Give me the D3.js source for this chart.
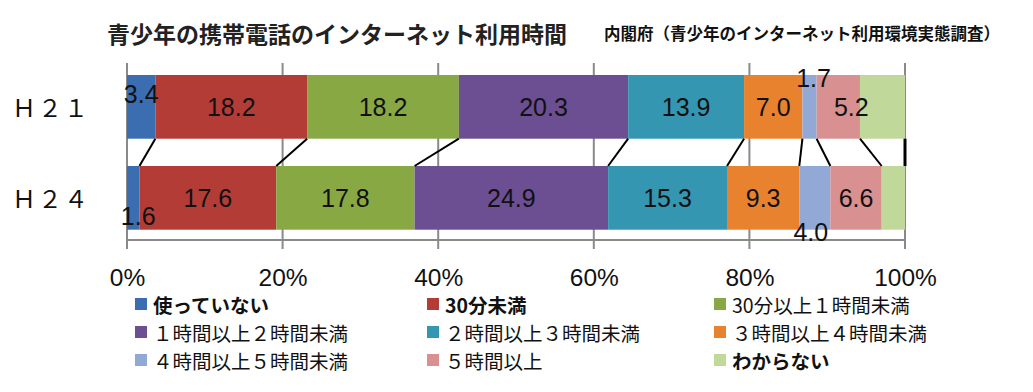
<!DOCTYPE html>
<html><head><meta charset="utf-8">
<script src="https://cdn.jsdelivr.net/npm/d3@7"></script>
<style>body{margin:0;background:#fff}svg{display:block}</style>
</head><body>
<svg id="c" width="1033" height="392"></svg>
<script>
const categories = ["Ｈ２１", "Ｈ２４"];
const seriesNames = ["使っていない","30分未満","30分以上１時間未満","１時間以上２時間未満","２時間以上３時間未満","３時間以上４時間未満","４時間以上５時間未満","５時間以上","わからない"];
const h21 = [3.4, 18.2, 18.2, 20.3, 13.9, 7.0, 1.7, 5.2, 5.4];
const h24 = [1.6, 17.6, 17.8, 24.9, 15.3, 9.3, 4.0, 6.6, 3.0];
const shownLabels = [true, true, true, true, true, true, true, true, false];
const colors = ["#3b6eb0","#b33c37","#88a843","#6c4e92","#3596b2","#e8822f","#92a9d6","#d99090","#c0d89a"];
const tickValues = [0, 0.2, 0.4, 0.6, 0.8, 1.0];
const title = "青少年の携帯電話のインターネット利用時間";
const source = "内閣府（青少年のインターネット利用環境実態調査）";

const svg = d3.select("#c");
const x = d3.scaleLinear().domain([0, 1]).range([127, 905]);
const y = d3.scaleBand().domain(categories).range([75, 229.7]).paddingInner(0.3).paddingOuter(0);

const rows = [h21, h24].map((vals, i) => {
  const o = {cat: categories[i]};
  seriesNames.forEach((s, j) => o[s] = vals[j]);
  return o;
});
const stack = d3.stack().keys(seriesNames).offset(d3.stackOffsetExpand);
const series = stack(rows);

// gridlines
svg.append("g").selectAll("line").data(tickValues).join("line")
  .attr("x1", d => x(d)).attr("x2", d => x(d)).attr("y1", 63).attr("y2", 249)
  .attr("stroke", "#8a8a8a").attr("stroke-width", 2);
svg.append("line").attr("x1", x(0)).attr("x2", x(1)).attr("y1", 240).attr("y2", 240)
  .attr("stroke", "#8a8a8a").attr("stroke-width", 2);

// bars
series.forEach((s, j) => {
  svg.append("g").selectAll("rect").data(s).join("rect")
    .attr("x", d => x(d[0])).attr("width", d => x(d[1]) - x(d[0]))
    .attr("y", d => y(d.data.cat)).attr("height", y.bandwidth())
    .attr("fill", colors[j]);
});

// connector lines
series.forEach((s, j) => {
  const a = s[0], b = s[1];
  svg.append("line")
    .attr("x1", x(a[1])).attr("y1", y(categories[0]) + y.bandwidth())
    .attr("x2", x(b[1])).attr("y2", y(categories[1]))
    .attr("stroke", "#000").attr("stroke-width", j === seriesNames.length - 1 ? 3 : 2);
});

// data labels
const labelOffsets = [
  [[0, -13], [5, 18]],
  [[0,0],[0,0]],[[0,0],[0,0]],[[0,0],[0,0]],[[0,0],[0,0]],[[0,0],[0,0]],
  [[4, -29], [-4, 34]],
  [[13, 0], [0, 0]],
  [[0,0],[0,0]]
];
series.forEach((s, j) => {
  if (!shownLabels[j]) return;
  s.forEach((d, i) => {
    const vals = i === 0 ? h21 : h24;
    const off = labelOffsets[j][i];
    svg.append("text")
      .attr("x", (x(d[0]) + x(d[1])) / 2 + off[0])
      .attr("y", y(d.data.cat) + y.bandwidth() / 2 + off[1])
      .attr("text-anchor", "middle").attr("dominant-baseline", "central")
      .attr("font-family", "Liberation Sans, Arial, sans-serif").attr("font-size", 25)
      .attr("fill", "#111").text(vals[j].toFixed(1));
  });
});

// category labels
svg.append("g").selectAll("text").data(categories).join("text")
  .attr("x", 12).attr("y", d => y(d) + y.bandwidth() / 2)
  .attr("dominant-baseline", "central")
  .attr("font-family", "Noto Sans CJK JP, sans-serif").attr("font-size", 24)
  .attr("letter-spacing", 2).attr("fill", "#111").text(d => d);

// tick labels
const axis = d3.axisBottom(x).tickValues(tickValues).tickFormat(d3.format(".0%")).tickSize(0).tickPadding(0);
const ag = svg.append("g").attr("transform", "translate(0,277)").call(axis);
ag.select(".domain").remove();
ag.selectAll("text").attr("font-family", "Liberation Sans, Arial, sans-serif").attr("font-size", 24.5)
  .attr("fill", "#111").attr("dy", "0.35em").attr("y", 0);

// title
svg.append("text").attr("x", 107).attr("y", 33).attr("dominant-baseline", "central")
  .attr("font-family", "Noto Sans CJK JP, sans-serif").attr("font-size", 23).attr("font-weight", "bold")
  .attr("fill", "#222").text(title);
svg.append("text").attr("x", 604).attr("y", 33).attr("dominant-baseline", "central")
  .attr("font-family", "Noto Sans CJK JP, sans-serif").attr("font-size", 16.5).attr("font-weight", "bold")
  .attr("fill", "#111").text(source);

// legend
const legendBold = [true, true, false, false, false, false, false, false, true];
const colX = [135, 427, 714];
const rowY = [304, 332, 360];
seriesNames.forEach((s, j) => {
  const cx = colX[j % 3], cy = rowY[Math.floor(j / 3)];
  svg.append("rect").attr("x", cx).attr("y", cy - 6).attr("width", 12).attr("height", 12).attr("fill", colors[j]);
  svg.append("text").attr("x", cx + 18).attr("y", cy).attr("dominant-baseline", "central")
    .attr("font-family", "Noto Sans CJK JP, sans-serif").attr("font-size", 19.5)
    .attr("font-weight", legendBold[j] ? "bold" : "normal")
    .attr("fill", "#111").text(s);
});
</script>
</body></html>
